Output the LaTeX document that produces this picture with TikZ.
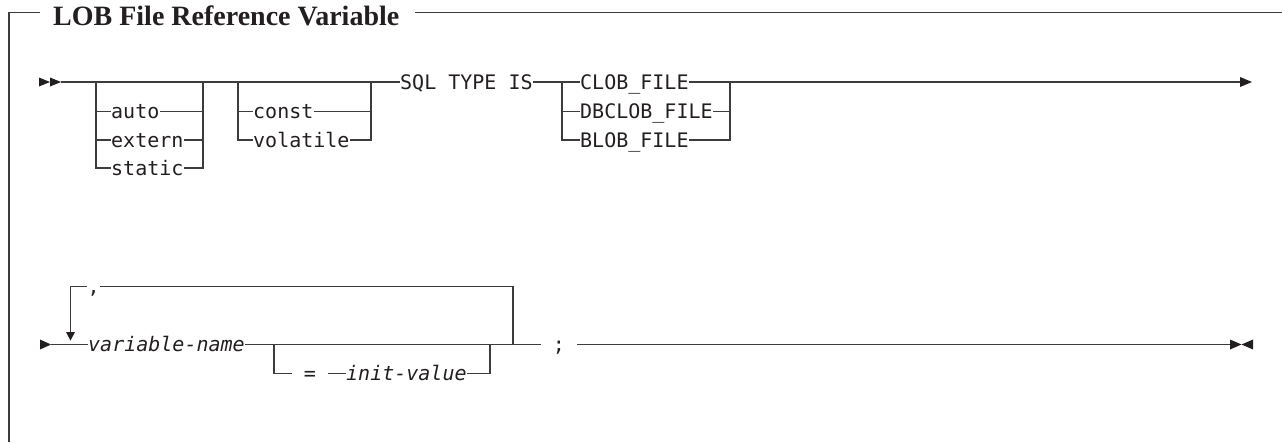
\documentclass[tikz,border=0pt]{standalone}
\usepackage{fontspec}
\newfontfamily\monofont{DejaVu Sans Mono}
\newfontfamily\titlefont{Liberation Serif}
\usetikzlibrary{calc}
\definecolor{railc}{HTML}{3C3C3C}
\definecolor{ink}{HTML}{231F20}
\begin{document}
\begin{tikzpicture}[x=1pt,y=-1pt,
  rail/.style={draw=railc, line width=1.3pt},
  framel/.style={draw=railc, line width=1.5pt},
  kw/.style={font=\monofont\fontsize{20}{24}\selectfont, text=ink, inner sep=0pt, text height=14.5pt, text depth=0pt, anchor=west},
  varname/.style={kw, font=\monofont\itshape\fontsize{20}{24}\selectfont},
  sep/.style={kw, inner xsep=12pt, anchor=center},
  titlenode/.style={font=\titlefont\bfseries\fontsize{28}{32}\selectfont, text=ink, inner sep=0pt, anchor=base west},
  tipfill/.style={fill=ink, draw=none}]
\useasboundingbox (0,0) rectangle (1282,442);
% frame
\coordinate (fBL) at (9,442);
\coordinate (fTL) at (9,12.5);
\coordinate (fT1) at (40,12.5);
\coordinate (fTR) at (1282,12.5);
\node[titlenode] (title) at (53,25) {LOB File Reference Variable};
\draw[framel] (fBL) -- (fTL) -- (fT1);
\draw[framel] ([xshift=16pt]title.east |- fTL) -- (fTR);
% ---- row 1 ----
\fill[tipfill] (39,77.5) -- (50,82) -- (39,86.5) -- cycle;
\fill[tipfill] (50,77.5) -- (61,82) -- (50,86.5) -- cycle;
\coordinate (s1) at (61,82);
\coordinate (a0) at (96,82);
\coordinate (a1) at (203,82);
\coordinate (b0) at (238,82);
\coordinate (b1) at (371,82);
\coordinate (c0) at (562,82);
\coordinate (c1) at (730,82);
\coordinate (e1) at (1240,82);
\node[kw] (auto) at (111,111.5) {auto};
\node[kw] (extern) at (111,140) {extern};
\node[kw] (static) at (111,168) {static};
\node[kw] (const) at (253,111.5) {const};
\node[kw] (volatile) at (253,140) {volatile};
\node[kw] (sql) at (400,82) {SQL TYPE IS};
\node[kw] (clob) at (580,82) {CLOB\_FILE};
\node[kw] (dbclob) at (580,111.5) {DBCLOB\_FILE};
\node[kw] (blob) at (580,140) {BLOB\_FILE};
% main line
\draw[rail] (s1) -- (a0) -- (a1) -- (b0) -- (b1) -- (sql.west);
\draw[rail] (sql.east) -- (c0) -- (clob.west);
\draw[rail] (clob.east) -- (c1) -- (e1);
\fill[tipfill] (1240,77) -- (1252,82) -- (1240,87) -- cycle;
% group A
\draw[rail] (a0) -- (a0 |- static.west) -- (static.west);
\draw[rail] (a0 |- auto.west) -- (auto.west);
\draw[rail] (a0 |- extern.west) -- (extern.west);
\draw[rail] (a1) -- (a1 |- static.east) -- (static.east);
\draw[rail] (auto.east) -- (auto.east -| a1);
\draw[rail] (extern.east) -- (extern.east -| a1);
% group B
\draw[rail] (b0) -- (b0 |- volatile.west) -- (volatile.west);
\draw[rail] (b0 |- const.west) -- (const.west);
\draw[rail] (b1) -- (b1 |- volatile.east) -- (volatile.east);
\draw[rail] (const.east) -- (const.east -| b1);
% group C
\draw[rail] (c0) -- (c0 |- blob.west) -- (blob.west);
\draw[rail] (c0 |- dbclob.west) -- (dbclob.west);
\draw[rail] (c1) -- (c1 |- blob.east) -- (blob.east);
\draw[rail] (dbclob.east) -- (dbclob.east -| c1);
% ---- row 2 ----
\fill[tipfill] (40,339.5) -- (51,344.5) -- (40,349.5) -- cycle;
\coordinate (s2) at (51,344.5);
\coordinate (L0) at (70.5,344.5);
\coordinate (L0t) at (70.5,286.5);
\coordinate (L1) at (513,344.5);
\coordinate (L1t) at (513,286.5);
\coordinate (Larr) at (70.5,332);
\coordinate (o0) at (274,344.5);
\coordinate (o1) at (490,344.5);
\coordinate (e2) at (1230,344.5);
\node[kw, inner xsep=0.5pt] (comma) at (87,286.5) {,};
\node[varname] (vname) at (88,344.5) {variable-name};
\node[sep] (eq) at (310,373.5) {=};
\node[varname] (init) at (346,373.5) {init-value};
\node[sep] (semi) at (559,344.5) {;};
\draw[rail] (s2) -- (L0) -- (vname.west);
\draw[rail] (Larr) -- (L0t) -- (comma.west);
\draw[rail] (comma.east) -- (L1t) -- (L1);
\fill[tipfill] (66,332) -- (75,332) -- (70.5,340.5) -- cycle;
\draw[rail] (vname.east) -- (o0) -- (o1) -- (L1) -- (semi.west);
\draw[rail] (o0) -- (o0 |- eq.west) -- (eq.west);
\draw[rail] (eq.east) -- (init.west);
\draw[rail] (init.east) -- (init.east -| o1) -- (o1);
\draw[rail] (semi.east) -- (e2);
\fill[tipfill] (1230,339.5) -- (1241.5,344.5) -- (1230,349.5) -- cycle;
\fill[tipfill] (1253,339.5) -- (1241.5,344.5) -- (1253,349.5) -- cycle;
\end{tikzpicture}
\end{document}
